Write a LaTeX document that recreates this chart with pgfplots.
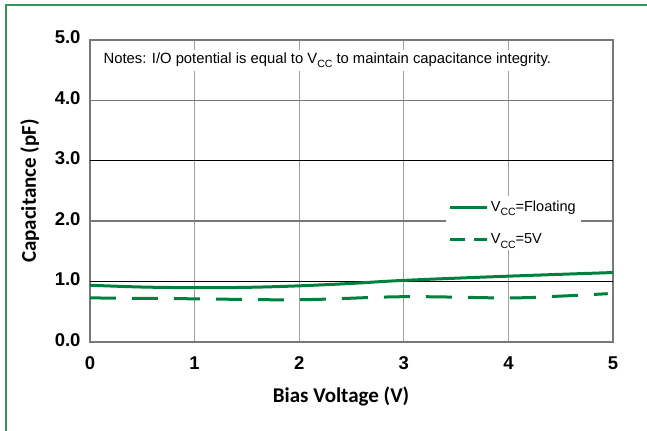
\documentclass[border=0pt]{standalone}
\usepackage{pgfplots}
\pgfplotsset{compat=1.18}
\usepackage{fontspec}
\setmainfont{Liberation Sans}
\newfontfamily\carlito{Carlito}
\definecolor{cgreen}{RGB}{0,128,62}
\definecolor{fgreen}{RGB}{50,150,90}
\definecolor{gridg}{RGB}{160,160,160}
\definecolor{axg}{RGB}{120,120,120}
\newcommand{\vcc}{V\raisebox{-0.55ex}{\fontsize{10.5bp}{11bp}\selectfont CC}}
\begin{document}
\begin{tikzpicture}[x=1bp,y=1bp]
\useasboundingbox (-90bp,-89bp) rectangle (557bp,342bp);
\draw[fgreen, line width=1.5bp] (-84bp,-89bp) -- (-84bp,337bp) -- (557bp,337bp);
\begin{axis}[
  at={(0,0)}, anchor=south west,
  scale only axis, width=523bp, height=302bp,
  xmin=0, xmax=5, ymin=0, ymax=5,
  xtick={0,1,2,3,4,5}, ytick={0,1,2,3,4,5},
  yticklabels={0.0,1.0,2.0,3.0,4.0,5.0},
  xticklabel style={font=\fontsize{18.5bp}{20bp}\selectfont\bfseries, anchor=center, yshift=-23bp},
  yticklabel style={font=\fontsize{18.5bp}{20bp}\selectfont\bfseries, anchor=east, xshift=-6bp},
  typeset ticklabels with strut,
  /pgf/number format/assume math mode=true,
  tick style={draw=none},
  axis line style={draw=axg, line width=1.6bp},
  xmajorgrids, grid style={draw=gridg, line width=0.9bp},
  xlabel={\carlito\bfseries Bias Voltage (V)},
  ylabel={\carlito\bfseries Capacitance (pF)},
  xlabel style={font=\fontsize{21bp}{23bp}\selectfont, at={(axis description cs:0.48,-0.182)}, anchor=center},
  ylabel style={font=\fontsize{21bp}{23bp}\selectfont, at={(axis description cs:-0.115,0.5)}, anchor=center, rotate=0},
  legend style={at={(axis cs:3.40,2.42)}, anchor=north west, draw=none, fill=white,
    font=\fontsize{14.5bp}{16bp}\selectfont, row sep=17bp, inner sep=3bp},
  legend cell align=left,
  clip=false,
]
% horizontal grid lines
\addplot[forget plot, axg, line width=1.6bp] coordinates {(0,4) (5,4)};
\addplot[forget plot, axg, line width=1.6bp] coordinates {(0,2) (5,2)};
\addplot[forget plot, black, line width=0.9bp] coordinates {(0,3) (5,3)};
\addplot[forget plot, black, line width=0.9bp] coordinates {(0,1) (5,1)};
\node[fill=white, anchor=west, inner sep=3bp, font=\fontsize{14.8bp}{16bp}\selectfont] at (axis cs:0.1,4.66) {Notes: I/O potential is equal to \vcc{} to maintain capacitance integrity.};
\addplot[cgreen, line width=3bp, smooth, tension=0.6,
  legend image code/.code={\draw[cgreen, line width=3bp] (0bp,0bp) -- (37bp,0bp);}]
  coordinates {(0,0.94) (0.5,0.91) (1,0.90) (1.5,0.905) (2,0.93) (2.5,0.97) (3,1.02) (4,1.09) (5,1.15)};
\addlegendentry{\vcc=Floating}
\addplot[cgreen, line width=3bp, smooth, tension=0.6, dash pattern=on 26bp off 16bp,
  legend image code/.code={\draw[cgreen, line width=3bp, dash pattern=on 15bp off 9bp] (0bp,0bp) -- (37bp,0bp);}]
  coordinates {(0,0.73) (1,0.715) (2,0.70) (3,0.75) (4,0.73) (4.5,0.76) (4.95,0.80)};
\addlegendentry{\vcc=5V}
\end{axis}
\end{tikzpicture}
\end{document}
